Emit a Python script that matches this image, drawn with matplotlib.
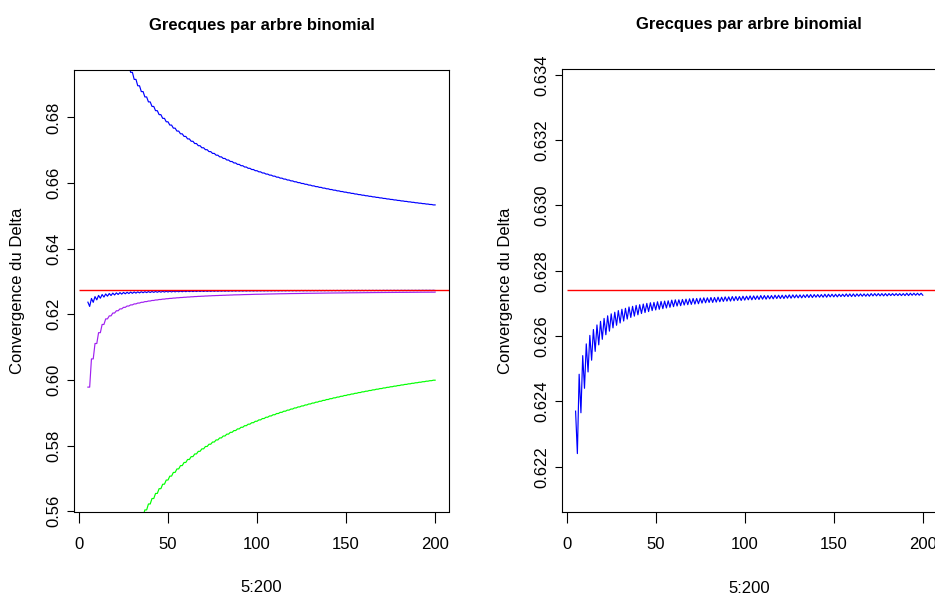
import numpy as np
import matplotlib.pyplot as plt

plt.rcParams['font.family'] = ['Liberation Sans', 'DejaVu Sans']

# Delta de Black-Scholes (valeur limite)
delta_bs = 0.6274

# Delta par arbre binomial, nombre de pas impair (5, 7, ..., 199)
delta_impair = [
    0.62370, 0.62483, 0.62540, 0.62576, 0.62602, 0.62620, 0.62634, 0.62645, 0.62654, 0.62662,
    0.62668, 0.62673, 0.62678, 0.62682, 0.62685, 0.62689, 0.62691, 0.62694, 0.62696, 0.62698,
    0.62700, 0.62702, 0.62703, 0.62705, 0.62706, 0.62707, 0.62708, 0.62710, 0.62711, 0.62711,
    0.62712, 0.62713, 0.62714, 0.62715, 0.62715, 0.62716, 0.62717, 0.62717, 0.62718, 0.62718,
    0.62719, 0.62719, 0.62720, 0.62720, 0.62721, 0.62721, 0.62721, 0.62722, 0.62722, 0.62723,
    0.62723, 0.62723, 0.62724, 0.62724, 0.62724, 0.62724, 0.62725, 0.62725, 0.62725, 0.62725,
    0.62726, 0.62726, 0.62726, 0.62726, 0.62726, 0.62727, 0.62727, 0.62727, 0.62727, 0.62727,
    0.62728, 0.62728, 0.62728, 0.62728, 0.62728, 0.62728, 0.62729, 0.62729, 0.62729, 0.62729,
    0.62729, 0.62729, 0.62729, 0.62730, 0.62730, 0.62730, 0.62730, 0.62730, 0.62730, 0.62730,
    0.62730, 0.62730, 0.62730, 0.62731, 0.62731, 0.62731, 0.62731, 0.62731]

# Delta par arbre binomial, nombre de pas pair (6, 8, ..., 200)
delta_pair = [
    0.62240, 0.62365, 0.62440, 0.62490, 0.62526, 0.62553, 0.62573, 0.62590, 0.62604, 0.62615,
    0.62625, 0.62633, 0.62640, 0.62646, 0.62652, 0.62657, 0.62661, 0.62665, 0.62669, 0.62672,
    0.62675, 0.62678, 0.62680, 0.62682, 0.62684, 0.62686, 0.62688, 0.62690, 0.62692, 0.62693,
    0.62695, 0.62696, 0.62697, 0.62698, 0.62699, 0.62701, 0.62702, 0.62703, 0.62703, 0.62704,
    0.62705, 0.62706, 0.62707, 0.62707, 0.62708, 0.62709, 0.62709, 0.62710, 0.62711, 0.62711,
    0.62712, 0.62712, 0.62713, 0.62713, 0.62714, 0.62714, 0.62715, 0.62715, 0.62715, 0.62716,
    0.62716, 0.62717, 0.62717, 0.62717, 0.62718, 0.62718, 0.62718, 0.62719, 0.62719, 0.62719,
    0.62719, 0.62720, 0.62720, 0.62720, 0.62721, 0.62721, 0.62721, 0.62721, 0.62721, 0.62722,
    0.62722, 0.62722, 0.62722, 0.62723, 0.62723, 0.62723, 0.62723, 0.62723, 0.62724, 0.62724,
    0.62724, 0.62724, 0.62724, 0.62724, 0.62725, 0.62725, 0.62725, 0.62725]

# Autres estimations : une valeur par couple de pas (2k-1, 2k)
delta_violet = [
    0.5978, 0.6064, 0.6111, 0.6144, 0.6169, 0.6186, 0.61952, 0.62039, 0.62108, 0.62165,
    0.62212, 0.62252, 0.62287, 0.62317, 0.62343, 0.62366, 0.62387, 0.62405, 0.62422, 0.62437,
    0.62451, 0.62463, 0.62475, 0.62485, 0.62495, 0.62504, 0.62512, 0.62520, 0.62527, 0.62534,
    0.62541, 0.62547, 0.62552, 0.62558, 0.62563, 0.62568, 0.62572, 0.62576, 0.62580, 0.62584,
    0.62588, 0.62592, 0.62595, 0.62598, 0.62601, 0.62604, 0.62607, 0.62610, 0.62612, 0.62615,
    0.62617, 0.62619, 0.62622, 0.62624, 0.62626, 0.62628, 0.62630, 0.62632, 0.62633, 0.62635,
    0.62637, 0.62639, 0.62640, 0.62642, 0.62643, 0.62645, 0.62646, 0.62647, 0.62649, 0.62650,
    0.62651, 0.62652, 0.62654, 0.62655, 0.62656, 0.62657, 0.62658, 0.62659, 0.62660, 0.62661,
    0.62662, 0.62663, 0.62664, 0.62665, 0.62666, 0.62667, 0.62667, 0.62668, 0.62669, 0.62670,
    0.62670, 0.62671, 0.62672, 0.62673, 0.62673, 0.62674, 0.62675, 0.62675]
debut_violet = 5

delta_haut = [
    0.69614, 0.69377, 0.69162, 0.68967, 0.68790, 0.68627, 0.68476, 0.68337, 0.68208, 0.68087,
    0.67974, 0.67869, 0.67769, 0.67675, 0.67586, 0.67502, 0.67423, 0.67347, 0.67275, 0.67206,
    0.67140, 0.67077, 0.67018, 0.66960, 0.66905, 0.66851, 0.66800, 0.66751, 0.66704, 0.66658,
    0.66614, 0.66571, 0.66530, 0.66490, 0.66451, 0.66414, 0.66378, 0.66343, 0.66308, 0.66275,
    0.66243, 0.66212, 0.66181, 0.66151, 0.66122, 0.66094, 0.66067, 0.66040, 0.66014, 0.65988,
    0.65964, 0.65939, 0.65915, 0.65892, 0.65870, 0.65847, 0.65826, 0.65804, 0.65784, 0.65763,
    0.65743, 0.65724, 0.65705, 0.65686, 0.65667, 0.65649, 0.65631, 0.65614, 0.65597, 0.65580,
    0.65564, 0.65548, 0.65532, 0.65516, 0.65501, 0.65486, 0.65471, 0.65456, 0.65442, 0.65428,
    0.65414, 0.65400, 0.65387, 0.65374, 0.65361, 0.65348, 0.65335]
debut_haut = 27

delta_bas = [
    0.55840, 0.56036, 0.56217, 0.56384, 0.56539, 0.56684, 0.56820, 0.56947, 0.57067, 0.57180,
    0.57286, 0.57387, 0.57483, 0.57574, 0.57661, 0.57743, 0.57822, 0.57898, 0.57970, 0.58039,
    0.58106, 0.58170, 0.58231, 0.58290, 0.58347, 0.58402, 0.58455, 0.58506, 0.58556, 0.58604,
    0.58650, 0.58695, 0.58739, 0.58781, 0.58822, 0.58862, 0.58901, 0.58938, 0.58975, 0.59011,
    0.59046, 0.59079, 0.59112, 0.59145, 0.59176, 0.59206, 0.59236, 0.59266, 0.59294, 0.59322,
    0.59349, 0.59376, 0.59402, 0.59428, 0.59453, 0.59477, 0.59501, 0.59525, 0.59548, 0.59570,
    0.59592, 0.59614, 0.59636, 0.59656, 0.59677, 0.59697, 0.59717, 0.59736, 0.59755, 0.59774,
    0.59792, 0.59810, 0.59828, 0.59846, 0.59863, 0.59880, 0.59897, 0.59913, 0.59929, 0.59945,
    0.59961, 0.59976, 0.59991]
debut_bas = 35

n_max = 200
yticks_gauche = [0.56, 0.58, 0.60, 0.62, 0.64, 0.66, 0.68]
yticks_droite = [0.622, 0.624, 0.626, 0.628, 0.630, 0.632, 0.634]
xticks = [0, 50, 100, 150, 200]

# serie binomiale complete (pas impairs et pairs entrelaces)
n = np.arange(5, n_max + 1)
delta_arbre = np.empty(len(n))
delta_arbre[0::2] = delta_impair
delta_arbre[1::2] = delta_pair


def escalier(valeurs, debut):
    y = np.repeat(valeurs, 2)
    x = np.arange(debut, debut + len(y))
    return x, y


W, H = 935, 599
fig = plt.figure(figsize=(W / 100, H / 100), dpi=100)
ax1 = fig.add_axes([74 / W, 87.5 / H, 375 / W, 441.5 / H])
ax2 = fig.add_axes([561.7 / W, 87.3 / H, 375 / W, 442.4 / H])

lw = 0.85
x, y = escalier(delta_haut, debut_haut)
ax1.plot(x, y, color='#0000FF', lw=lw)
x, y = escalier(delta_bas, debut_bas)
ax1.plot(x, y, color='#00FF00', lw=lw)
x, y = escalier(delta_violet, debut_violet)
ax1.plot(x, y, color='#A020F0', lw=lw)
ax1.plot(n, delta_arbre, color='#0000FF', lw=lw)
ax1.set_ylim(0.55988, 0.69448)
ax1.set_yticks(yticks_gauche)
ax1.set_yticklabels(['%.2f' % v for v in yticks_gauche])

ax2.plot(n, delta_arbre, color='#0000FF', lw=lw)
ax2.set_ylim(0.62062, 0.63417)
ax2.set_yticks(yticks_droite)
ax2.set_yticklabels(['%.3f' % v for v in yticks_droite])

for ax in (ax1, ax2):
    ax.hlines(delta_bs, 0, 215, color='#FF0000', lw=1.0)
    ax.set_xlim(-2.8, 207.8)
    ax.set_xticks(xticks)
    ax.tick_params(axis='x', length=8, width=0.8, pad=10.5, labelsize=12)
    ax.tick_params(axis='y', length=5, width=0.8, pad=4, labelsize=12)
    for lab in ax.get_yticklabels():
        lab.set_rotation(90)
        lab.set_va('center')
    for s in ax.spines.values():
        s.set_linewidth(0.8)
    ax.set_xlabel('5:200', fontsize=12)
    ax.xaxis.set_label_coords(0.5, -76.5 / 441.5)
    ax.xaxis.label.set_va('center')
    ax.set_ylabel('Convergence du Delta', fontsize=12)
    ax.yaxis.set_label_coords(-56 / 375, 0.5)
    ax.yaxis.label.set_va('center')
    ax.set_title('Grecques par arbre binomial', fontsize=12, fontweight='bold', pad=32)
    ax.title.set_va('center')

ax2.spines['right'].set_visible(False)

fig.savefig('out.png', dpi=100)
